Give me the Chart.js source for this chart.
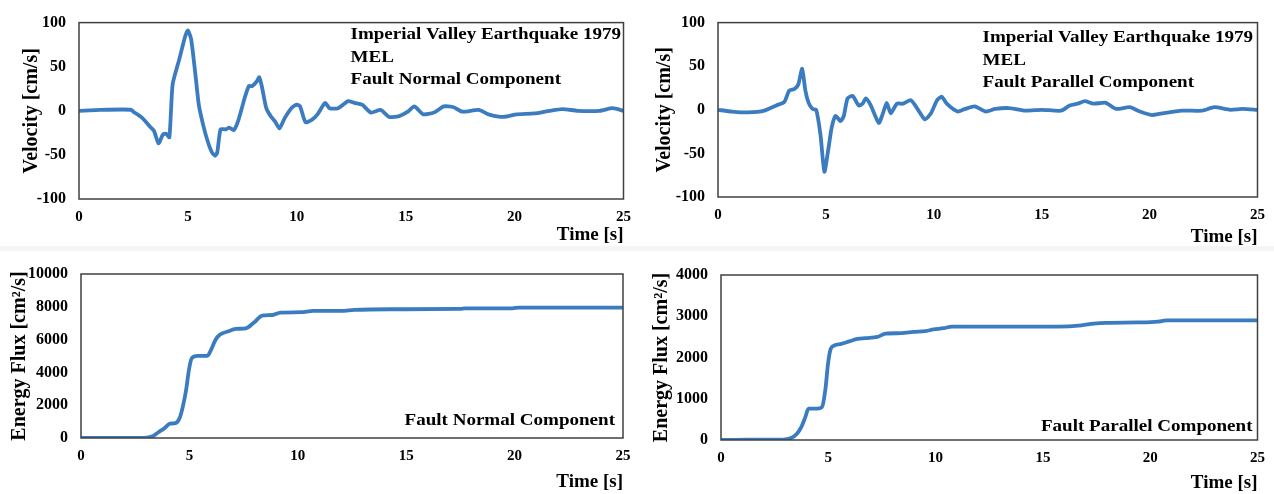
<!DOCTYPE html>
<html>
<head>
<meta charset="utf-8">
<script src="https://cdn.jsdelivr.net/npm/chart.js@4.4.1/dist/chart.umd.min.js"></script>
<style>
  html, body { margin: 0; padding: 0; background: #fff; }
  body { width: 1274px; height: 494px; position: relative; overflow: hidden; }
  .panel { position: absolute; }
  .band { position: absolute; left: 0; top: 246px; width: 1274px; height: 5px; background: #f5f5f5; }
</style>
</head>
<body>
<div class="band"></div>
<div class="panel" style="left:0;top:0;width:640px;height:248px"><canvas id="fnVelChart"></canvas></div>
<div class="panel" style="left:640px;top:0;width:634px;height:248px"><canvas id="fpVelChart"></canvas></div>
<div class="panel" style="left:0;top:248px;width:640px;height:246px"><canvas id="fnFluxChart"></canvas></div>
<div class="panel" style="left:640px;top:248px;width:634px;height:246px"><canvas id="fpFluxChart"></canvas></div>
<script>
// velocity, fault normal [cm/s]
const fnVelTime = [0, 1, 2, 2.4, 2.5, 2.9, 3.3, 3.45, 3.65, 3.85, 4.0, 4.15, 4.3, 4.6, 4.87, 5.0, 5.15, 5.35, 5.5, 5.7,
    5.9, 6.1, 6.25, 6.35, 6.5, 6.75, 6.9, 7.1, 7.3, 7.6, 7.8, 7.95, 8.15, 8.28, 8.4, 8.6, 8.8, 9.0, 9.2, 9.45,
    9.75, 10.0, 10.15, 10.4, 10.7, 10.95, 11.3, 11.5, 11.9, 12.35, 12.65, 13.0, 13.4, 13.85, 14.25, 14.7, 15.1, 15.4, 15.8, 16.3,
    16.75, 17.2, 17.6, 18.35, 18.8, 19.5, 20.1, 20.9, 21.6, 22.2, 22.9, 23.9, 24.5, 25];
const fnVel = [0, 1, 1.5, 1, -1, -8, -19, -23, -37, -27, -26, -30, 30, 58, 84, 91, 81, 40, 7, -16,
    -34, -47, -51, -47, -21, -21, -19, -22, -12, 14, 28, 28, 33, 38, 27, 3, -6, -12, -20, -8,
    3, 7, 5, -13, -10, -4, 9, 3, 3, 11, 9, 7, -2, 1, -7, -6, -1, 5, -4, -2,
    5, 4, -1, 1, -4, -7, -4, -3, 0, 2, 0, 0, 3, 0];

// velocity, fault parallel [cm/s]
const fpVelTime = [0, 0.65, 1.4, 2.15, 2.7, 3.07, 3.3, 3.55, 3.72, 3.9, 4.05, 4.2, 4.38, 4.55, 4.75, 4.93, 5.12, 5.27, 5.45, 5.68,
    5.83, 6.0, 6.24, 6.52, 6.7, 6.85, 7.08, 7.45, 7.63, 7.82, 8.0, 8.29, 8.57, 8.94, 9.22, 9.59, 9.87, 10.15, 10.37, 10.6,
    11.1, 11.45, 11.9, 12.4, 12.85, 13.5, 14.25, 15.0, 15.9, 16.3, 16.67, 17.0, 17.4, 17.97, 18.44, 19.08, 19.55, 20.1, 20.58, 21.5,
    22.44, 23.0, 23.74, 24.3, 25];
const fpVel = [0, -2, -3, -1, 5, 9, 22, 24, 29, 47, 22, 8, 1, 0, -29, -71, -44, -20, -7, -13,
    -7, 13, 16, 5, 7, 13, 5, -15, -5, 8, -4, 7, 7, 11, 2, -11, -4, 11, 15, 7,
    -2, 1, 4, -2, 1, 2, -1, 0, -1, 5, 7, 10, 7, 8, 1, 3, -2, -6, -4, -1,
    -1, 3, 0, 1, 0];

// energy flux, fault normal [cm²/s]
const fnFluxTime = [0, 2.9, 3.3, 3.57, 3.85, 4.1, 4.36, 4.55, 4.7, 4.85, 4.98, 5.11, 5.36, 5.83, 6.0, 6.2, 6.4,
    6.77, 7.14, 7.6, 7.98, 8.36, 8.83, 9.2, 10.15, 10.7, 12.0, 12.6, 14.3, 17.5, 17.7, 19.9, 20.2, 25];
const fnFlux = [0, 0, 100, 350, 600, 870, 910, 1220, 1930, 2940, 4160, 4870, 5010, 5010, 5380, 5980, 6290,
    6490, 6650, 6690, 7040, 7460, 7500, 7650, 7670, 7750, 7750, 7810, 7850, 7870, 7910, 7910, 7950, 7950];

// energy flux, fault parallel [cm²/s]
const fpFluxTime = [0, 1.2, 2.9, 3.27, 3.55, 3.74, 3.93, 4.08, 4.49, 4.71, 4.86, 4.99, 5.1, 5.27, 5.6, 5.98, 6.36,
    6.73, 7.29, 7.67, 8.41, 8.97, 9.53, 9.9, 10.38, 10.75, 15.7, 16.8, 17.37, 17.94, 19.44, 20.37, 20.75, 25];
const fpFlux = [0, 10, 10, 50, 160, 310, 555, 760, 760, 800, 1210, 1860, 2190, 2290, 2330, 2390, 2450,
    2470, 2500, 2580, 2590, 2620, 2640, 2680, 2710, 2750, 2750, 2780, 2820, 2840, 2850, 2870, 2900, 2900];

const timeTicks = [0, 5, 10, 15, 20, 25];

const SERIF = '"Liberation Serif", "Times New Roman", serif';
const LINE_COLOR = '#3b7cc1';

Chart.defaults.font.family = SERIF;
Chart.defaults.font.weight = 'bold';
Chart.defaults.color = '#000';

/** Draws the frame round the plot area and the text notes inside it */
const frameNotes = {
    id: 'frameNotes',
    afterDatasetsDraw(chart, args, opts) {
        const { ctx, chartArea: a } = chart;
        ctx.save();
        ctx.strokeStyle = '#404040';
        ctx.lineWidth = 1.5;
        ctx.strokeRect(a.left, a.top, a.right - a.left, a.bottom - a.top);

        ctx.font = 'bold 17px ' + SERIF;
        ctx.fillStyle = '#000';
        ctx.textBaseline = 'middle';
        ctx.textAlign = opts.align || 'left';
        (opts.lines || []).forEach((txt, i) => {
            const x = a.right + opts.dx;
            const y = opts.fromBottom ? a.bottom - opts.dy[i] : a.top + opts.dy[i];
            ctx.save();
            ctx.translate(x, y);
            ctx.scale(1.12, 1);   // the original lettering is wide
            ctx.fillText(txt, 0, 0);
            ctx.restore();
        });
        ctx.restore();
    }
};

function makePanel(id, times, values, p) {
    const pts = times.map((t, i) => ({ x: t, y: values[i] }));
    return new Chart(document.getElementById(id), {
        type: 'line',
        data: {
            datasets: [{
                data: pts,
                borderColor: LINE_COLOR,
                borderWidth: 3.8,
                pointRadius: 0,
                tension: p.smooth ? 0 : 0.2,
                cubicInterpolationMode: p.smooth ? 'monotone' : 'default',
                borderCapStyle: 'round',
                borderJoinStyle: 'round'
            }]
        },
        options: {
            responsive: true,
            maintainAspectRatio: false,
            animation: false,
            layout: { padding: { left: 0, top: p.top, right: p.right, bottom: 0 } },
            plugins: {
                legend: { display: false },
                tooltip: { enabled: false },
                frameNotes: p.notes
            },
            scales: {
                x: {
                    type: 'linear',
                    min: 0,
                    max: 25,
                    afterBuildTicks: s => { s.ticks = timeTicks.map(v => ({ value: v })); },
                    afterFit: s => { s.height = p.xHeight; },
                    grid: { display: false, drawTicks: false },
                    border: { display: false },
                    ticks: { padding: 9, font: { size: 15, weight: 'bold' }, color: '#000', maxRotation: 0 },
                    title: {
                        display: true, text: 'Time [s]', align: 'end',
                        font: { size: 19, weight: 'bold' }, color: '#000',
                        padding: { top: 0, bottom: p.xTitlePad }
                    }
                },
                y: {
                    min: p.yMin,
                    max: p.yMax,
                    afterFit: s => { s.width = p.yWidth; },
                    grid: { display: false, drawTicks: false },
                    border: { display: false },
                    ticks: { stepSize: p.step, padding: 13, font: { size: 16, weight: 'bold' }, color: '#000',
                        callback: v => String(v) },
                    title: {
                        display: true, text: p.yTitle,
                        font: { size: 20, weight: 'bold' }, color: '#000',
                        padding: { top: p.yTitlePad, bottom: 0 }
                    }
                }
            }
        },
        plugins: [frameNotes]
    });
}

makePanel('fnVelChart', fnVelTime, fnVel, {
    top: 19.5, right: 15, xHeight: 49, yWidth: 79, xTitlePad: 1.5, yTitlePad: 20,
    yMin: -100, yMax: 100, step: 50, yTitle: 'Velocity [cm/s]',
    notes: { lines: ['Imperial Valley Earthquake 1979', 'MEL', 'Fault Normal Component'],
        align: 'left', dx: -273, dy: [12.5, 35.5, 57.5] }
});

makePanel('fpVelChart', fpVelTime, fpVel, {
    top: 14.5, right: 12, xHeight: 51, yWidth: 78, xTitlePad: 0, yTitlePad: 13,
    yMin: -100, yMax: 100, step: 50, yTitle: 'Velocity [cm/s]',
    notes: { lines: ['Imperial Valley Earthquake 1979', 'MEL', 'Fault Parallel Component'],
        align: 'left', dx: -275, dy: [15.5, 38.5, 60.5] }
});

makePanel('fnFluxChart', fnFluxTime, fnFlux, {
    top: 26, right: 17, xHeight: 56, yWidth: 81, xTitlePad: 1, yTitlePad: 8, smooth: true,
    yMin: 0, yMax: 10000, step: 2000, yTitle: 'Energy Flux [cm²/s]',
    notes: { lines: ['Fault Normal Component'], align: 'right', dx: -8, dy: [17], fromBottom: true }
});

makePanel('fpFluxChart', fpFluxTime, fpFlux, {
    top: 27, right: 12, xHeight: 54, yWidth: 81, xTitlePad: 0, yTitlePad: 10, smooth: true,
    yMin: 0, yMax: 4000, step: 1000, yTitle: 'Energy Flux [cm²/s]',
    notes: { lines: ['Fault Parallel Component'], align: 'right', dx: -5, dy: [13], fromBottom: true }
});
</script>
</body>
</html>
